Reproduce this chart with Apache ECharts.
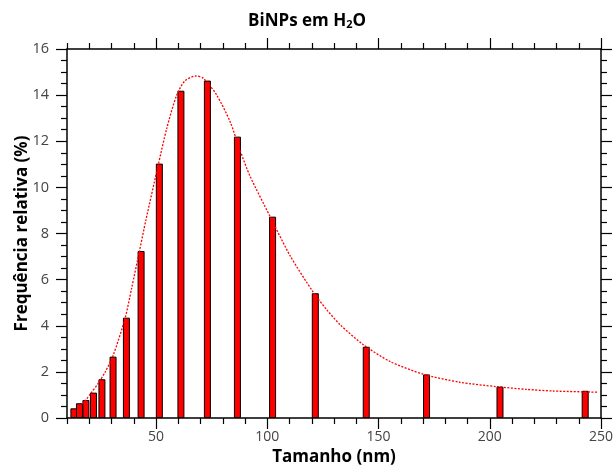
<!DOCTYPE html>
<html><head><meta charset="utf-8">
<script src="https://cdn.jsdelivr.net/npm/echarts@6/dist/echarts.min.js"></script>
<style>html,body{margin:0;padding:0;background:#fff}#c{width:614px;height:469px}</style>
</head><body><div id="c"></div>
<script>
// Histogram bins (center size in nm) and relative frequency (%)
const binSizes = [13.1, 15.6, 18.5, 21.9, 25.7, 30.7, 36.7, 43.3, 51.5, 61.2, 73.1, 86.6, 102.4, 121.6, 144.5, 171.6, 204.6, 242.9];
const binFreq  = [0.42, 0.64, 0.78, 1.1, 1.68, 2.66, 4.35, 7.24, 11.03, 14.19, 14.63, 12.2, 8.73, 5.41, 3.09, 1.89, 1.36, 1.18];
// Fitted curve points
const fitX = [17, 20.5, 24.2, 27.2, 30.8, 36.1, 39.1, 42.5, 45.5, 51.0, 54.8, 59.3, 63.0, 68.0, 71.3, 77.3, 83.3, 87.8, 92.2, 101.2, 110.2, 120.7, 126.7, 132.7, 142.9, 155.2, 170.1, 186.6, 203.1, 216.6, 228.6, 248.5];
const fitY = [0.6, 1.04, 1.53, 2.0, 2.73, 4.32, 5.65, 7.21, 8.6, 10.97, 12.55, 14.0, 14.62, 14.83, 14.73, 14.0, 12.85, 11.6, 10.5, 8.75, 7.05, 5.45, 4.7, 4.05, 3.2, 2.45, 1.9, 1.55, 1.36, 1.24, 1.17, 1.12];
const xMajor = [50, 100, 150, 200, 250];
const xMinor = [10, 20, 30, 40, 60, 70, 80, 90, 110, 120, 130, 140, 160, 170, 180, 190, 210, 220, 230, 240];
const titleText = 'BiNPs em H{s|2}O';
const xName = 'Tamanho (nm)';
const yName = 'Frequência relativa (%)';

const FONT = 'Open Sans';
const chart = echarts.init(document.getElementById('c'), null, {renderer: 'canvas'});
const lineAx = {show: true, onZero: false, lineStyle: {color: '#000', width: 1.5}};
const xBase = {type: 'value', min: 10, max: 250, splitLine: {show: false}};
function xAx(pos, major, showLabel, showLine) {
  return Object.assign({}, xBase, {
    position: pos,
    axisLine: showLine ? lineAx : {show: false, onZero: false},
    axisTick: {show: true, inside: false, length: major ? 11 : 6, customValues: major ? xMajor : xMinor, lineStyle: {color: '#000', width: 1.2}},
    axisLabel: showLabel ? {show: true, customValues: xMajor, margin: 12, color: '#444', fontSize: 14, fontFamily: FONT} : {show: false}
  });
}
const xAxes = [xAx('bottom', true, true, true), xAx('bottom', false, false, false), xAx('top', true, false, true), xAx('top', false, false, false)];
xAxes[0].name = xName;
xAxes[0].nameLocation = 'middle';
xAxes[0].nameGap = 29;
xAxes[0].nameTextStyle = {fontFamily: FONT, fontWeight: 'bold', fontSize: 17, color: '#000'};
function yAx(pos, showLabel) {
  return {
    type: 'value', position: pos, min: 0, max: 16, interval: 2,
    axisLine: lineAx, splitLine: {show: false},
    axisTick: {show: true, inside: false, length: 11, lineStyle: {color: '#000', width: 1.2}},
    minorTick: {show: true, splitNumber: 4, length: 6, lineStyle: {color: '#000', width: 1.2}},
    minorSplitLine: {show: false},
    axisLabel: showLabel ? {show: true, margin: 18, color: '#444', fontSize: 14.5, fontFamily: FONT} : {show: false}
  };
}
const yAxes = [yAx('left', true), yAx('right', false)];
yAxes[0].name = yName;
yAxes[0].nameLocation = 'middle';
yAxes[0].nameGap = 36;
yAxes[0].nameMoveOverlap = false;
yAxes[0].nameTextStyle = {fontFamily: FONT, fontWeight: 'bold', fontSize: 17, color: '#000'};

chart.setOption({
  animation: false,
  backgroundColor: '#fff',
  title: {
    text: titleText, left: 'center', top: 7,
    textStyle: {fontFamily: FONT, fontWeight: 'bold', fontSize: 17, color: '#000',
      rich: {s: {fontFamily: FONT, fontWeight: 'bold', fontSize: 11, color: '#000', verticalAlign: 'bottom', padding: [7, 0, 0, 0]}}}
  },
  grid: {left: 67, right: 13, top: 49, bottom: 51, containLabel: false, outerBoundsMode: 'none'},
  xAxis: xAxes,
  yAxis: yAxes,
  series: [
    {
      type: 'bar', xAxisIndex: 0, yAxisIndex: 0, barWidth: 7,
      data: binSizes.map((x, i) => [x, binFreq[i]]),
      itemStyle: {color: '#ff0000', borderColor: '#000', borderWidth: 1}
    },
    {
      type: 'line', xAxisIndex: 0, yAxisIndex: 0, smooth: 0.25, symbol: 'none', z: 3,
      data: fitX.map((x, i) => [x, fitY[i]]),
      lineStyle: {color: '#ff0000', width: 1.3, type: [2, 1.5]}
    }
  ]
});
</script></body></html>
